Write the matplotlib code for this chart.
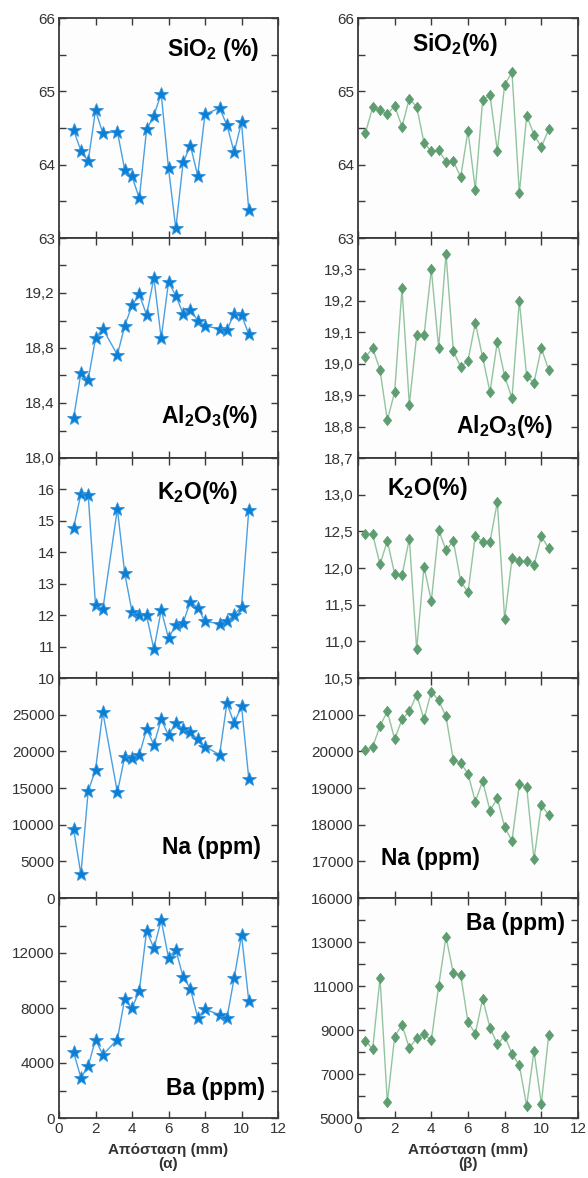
import matplotlib
matplotlib.use("Agg")
import matplotlib.pyplot as plt
from matplotlib.ticker import FixedLocator, MultipleLocator

plt.rcParams['font.family'] = ['Liberation Sans', 'DejaVu Sans']
plt.rcParams['mathtext.fontset'] = 'custom'
plt.rcParams['mathtext.rm'] = 'Liberation Sans:bold'
plt.rcParams['mathtext.bf'] = 'Liberation Sans:bold'

# ---------------- data ----------------
x_a = [0.8, 1.2, 1.6, 2.0, 2.4, 3.2, 3.6, 4.0, 4.4, 4.8, 5.2, 5.6, 6.0, 6.4,
       6.8, 7.2, 7.6, 8.0, 8.8, 9.2, 9.6, 10.0, 10.4]
x_b = [0.4, 0.8, 1.2, 1.6, 2.0, 2.4, 2.8, 3.2, 3.6, 4.0, 4.4, 4.8, 5.2, 5.6,
       6.0, 6.4, 6.8, 7.2, 7.6, 8.0, 8.4, 8.8, 9.2, 9.6, 10.0, 10.4]

sio2_a = [64.47, 64.19, 64.05, 64.74, 64.43, 64.45, 63.93, 63.84, 63.54, 64.48,
          64.67, 64.97, 63.95, 63.13, 64.03, 64.26, 63.85, 64.69, 64.77, 64.54,
          64.17, 64.58, 63.38]
al2o3_a = [18.29, 18.62, 18.57, 18.87, 18.94, 18.75, 18.96, 19.11, 19.19, 19.04,
           19.31, 18.87, 19.28, 19.18, 19.05, 19.08, 19.00, 18.96, 18.94, 18.93,
           19.05, 19.04, 18.90]
k2o_a = [14.78, 15.86, 15.83, 12.33, 12.18, 15.38, 13.34, 12.11, 12.00, 11.99,
         10.91, 12.16, 11.27, 11.68, 11.76, 12.43, 12.24, 11.80, 11.73, 11.80,
         12.01, 12.27, 15.35]
na_a = [9410, 3230, 14590, 17450, 25360, 14410, 19270, 19140, 19500, 23050,
        20910, 24360, 22180, 23910, 23000, 22590, 21640, 20640, 19550, 26550,
        23820, 26180, 16270]
ba_a = [4780, 2930, 3780, 5700, 4610, 5700, 8680, 7980, 9240, 13620, 12340,
        14380, 11660, 12240, 10260, 9410, 7300, 7900, 7520, 7270, 10180, 13310,
        8510]

sio2_b = [64.43, 64.78, 64.74, 64.69, 64.80, 64.52, 64.90, 64.79, 64.30, 64.18,
          64.20, 64.04, 64.05, 63.83, 64.46, 63.66, 64.88, 64.95, 64.19, 65.09,
          65.26, 63.61, 64.67, 64.41, 64.24, 64.48]
al2o3_b = [19.02, 19.05, 18.98, 18.82, 18.91, 19.24, 18.87, 19.09, 19.09, 19.30,
           19.05, 19.35, 19.04, 18.99, 19.01, 19.13, 19.02, 18.91, 19.07, 18.96,
           18.89, 19.20, 18.96, 18.94, 19.05, 18.98]
k2o_b = [12.46, 12.46, 12.05, 12.37, 11.92, 11.90, 12.40, 10.89, 12.02, 11.55,
         12.52, 12.24, 12.37, 11.82, 11.67, 12.44, 12.35, 12.36, 12.90, 11.30,
         12.13, 12.09, 12.09, 12.04, 12.43, 12.27]
na_b = [20030, 20120, 20690, 21090, 20330, 20870, 21090, 21545, 20870, 21630,
        21390, 20950, 19760, 19680, 19390, 18630, 19190, 18380, 18720, 17930,
        17560, 19100, 19030, 17050, 18530, 18270]
ba_b = [8520, 8130, 11370, 5710, 8700, 9240, 8170, 8650, 8800, 8530, 11010,
        13240, 11580, 11520, 9350, 8840, 10420, 9110, 8350, 8730, 7920, 7390,
        5560, 8040, 5650, 8760]

labels_a = [r'SiO$_\mathbf{2}$ (%)', r'Al$_\mathbf{2}$O$_\mathbf{3}$(%)',
            r'K$_\mathbf{2}$O(%)', 'Na (ppm)', 'Ba (ppm)']
labels_b = [r'SiO$_\mathbf{2}$(%)', r'Al$_\mathbf{2}$O$_\mathbf{3}$(%)',
            r'K$_\mathbf{2}$O(%)', 'Na (ppm)', 'Ba (ppm)']
xlabel_a = 'Απόσταση (mm)\n(α)'
xlabel_b = 'Απόσταση (mm)\n(β)'

# ---------------- axis settings ----------------
# (ylim, major step, minor step, decimals)
cfg_a = [((63, 66), 1, 0.5, 0), ((18.0, 19.6), 0.4, 0.2, 1), ((10, 17), 1, None, 0),
         ((0, 30000), 5000, None, 0), ((0, 16000), 4000, 2000, 0)]
cfg_b = [((63, 66), 1, 0.5, 0), ((18.7, 19.4), 0.1, None, 1), ((10.5, 13.5), 0.5, None, 1),
         ((16000, 22000), 1000, None, 0), ((5000, 15000), 2000, 1000, 0)]
# label positions (x, y, ha)
pos_a = [(0.915, 0.855, 'right'), (0.905, 0.19, 'right'), (0.63, 0.845, 'center'),
         (0.92, 0.23, 'right'), (0.94, 0.136, 'right')]
pos_b = [(0.44, 0.88, 'center'), (0.886, 0.145, 'right'), (0.316, 0.86, 'center'),
         (0.33, 0.18, 'center'), (0.94, 0.886, 'right')]

fig = plt.figure(figsize=(5.88, 11.78), dpi=100)
W, H = 588, 1178
col_x = [59, 358]
col_w = [219, 220]
top = 18
ph = 220

blue = '#0a7fd6'
blue_line = '#4aa0e2'
green = '#5e9d70'
green_line = '#93c49f'
spine_c = '#3a3a3a'
text_c = '#333333'
diamond = [(0, 1), (0.8, 0), (0, -1), (-0.8, 0), (0, 1)]


def fmt(v, dec):
    s = f'{v:.{dec}f}'
    return s.replace('.', ',')


data_a = [sio2_a, al2o3_a, k2o_a, na_a, ba_a]
data_b = [sio2_b, al2o3_b, k2o_b, na_b, ba_b]

for col in range(2):
    xs = x_a if col == 0 else x_b
    datas = data_a if col == 0 else data_b
    cfgs = cfg_a if col == 0 else cfg_b
    poss = pos_a if col == 0 else pos_b
    labs = labels_a if col == 0 else labels_b
    for i in range(5):
        y0 = H - (top + (i + 1) * ph)
        ax = fig.add_axes([col_x[col] / W, y0 / H, col_w[col] / W, ph / H])
        ax.set_facecolor('#fdfdfd')
        if col == 0:
            ax.plot(xs, datas[i], color=blue_line, lw=1.0, zorder=2)
            ax.plot(xs, datas[i], ls='none', marker='*', ms=10, color=blue,
                    mec='#3a95dc', mew=0.6, zorder=3)
        else:
            ax.plot(xs, datas[i], color=green_line, lw=1.0, zorder=2)
            ax.plot(xs, datas[i], ls='none', marker=diamond, ms=7.5, color=green,
                    mec=green, mew=0.5, zorder=3)
        (lo, hi), maj, mnr, dec = cfgs[i]
        ax.set_xlim(0, 12)
        ax.set_ylim(lo, hi)
        n = int(round((hi - lo) / maj))
        ticks = [lo + k * maj for k in range(n + 1)]
        ax.yaxis.set_major_locator(FixedLocator(ticks))
        tl = [fmt(t, dec) for t in ticks]
        if i > 0:
            tl[-1] = ''
        ax.set_yticklabels(tl)
        if mnr is not None:
            ax.yaxis.set_minor_locator(MultipleLocator(mnr))
        ax.xaxis.set_major_locator(MultipleLocator(2))
        ax.tick_params(which='both', direction='in', top=True, right=True,
                       length=5, width=1.0, color=spine_c, labelsize=11,
                       labelcolor=text_c, pad=3)
        for sp in ax.spines.values():
            sp.set_color(spine_c)
            sp.set_linewidth(1.3)
        if i < 4:
            ax.tick_params(axis='x', labelbottom=False)
        else:
            ax.set_xlabel(xlabel_a if col == 0 else xlabel_b, fontsize=11,
                          fontweight='bold', color=text_c, labelpad=5,
                          linespacing=1.0)
        px, py, ha = poss[i]
        ax.text(px, py, labs[i], transform=ax.transAxes, ha=ha, va='center',
                fontsize=16.5, fontweight='bold', color='black')

fig.savefig('out.png', dpi=100, facecolor='white')
